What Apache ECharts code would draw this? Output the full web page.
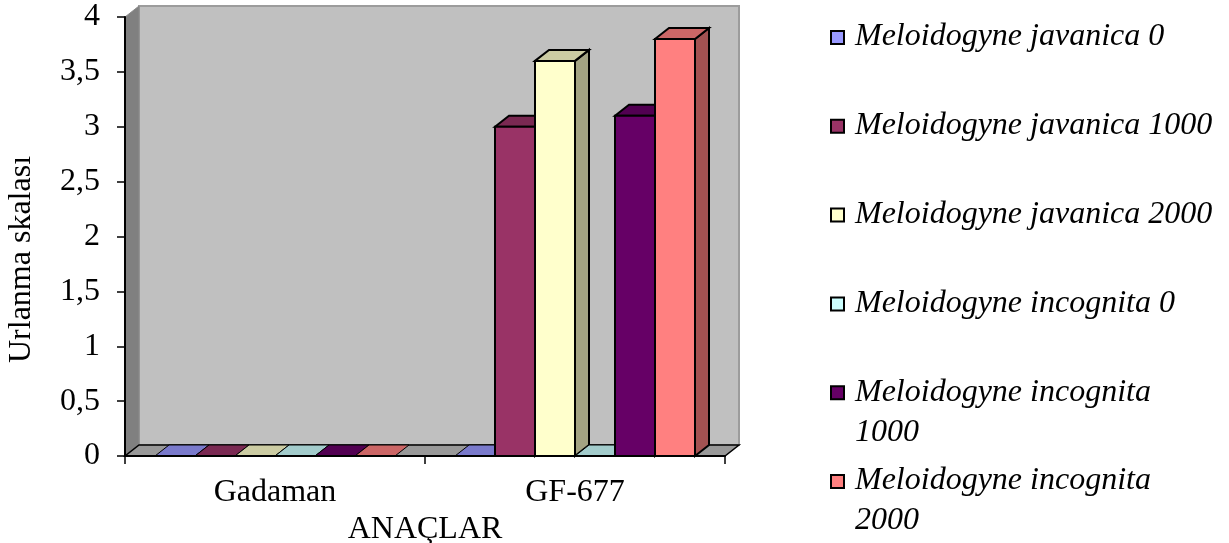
<!DOCTYPE html>
<html>
<head>
<meta charset="utf-8">
<script src="https://cdn.jsdelivr.net/npm/echarts@6/dist/echarts.min.js"></script>
<style>
  html, body { margin: 0; padding: 0; background: #ffffff; }
  #chart { width: 1229px; height: 543px; }
</style>
</head>
<body>
<div id="chart"></div>
<script>
// Rootstocks on the category axis
const categories = ['Gadaman', 'GF-677'];

// Nematode treatments (one series each)
const seriesNames = [
  'Meloidogyne javanica 0',
  'Meloidogyne javanica 1000',
  'Meloidogyne javanica 2000',
  'Meloidogyne incognita 0',
  'Meloidogyne incognita 1000',
  'Meloidogyne incognita 2000'
];

// Galling scale per treatment, [Gadaman, GF-677]
const javanica0    = [0, 0];
const javanica1000 = [0, 3.0];
const javanica2000 = [0, 3.6];
const incognita0   = [0, 0];
const incognita1000 = [0, 3.1];
const incognita2000 = [0, 3.8];
const seriesValues = [javanica0, javanica1000, javanica2000, incognita0, incognita1000, incognita2000];

// Value axis
const yMin = 0, yMax = 4, yStep = 0.5;

const colors = ['#9999FF', '#993366', '#FFFFCC', '#CCFFFF', '#660066', '#FF8080'];

// depth of the pseudo-3D box, in pixels
const DX = 14, DY = -11;
const FONT = '"Liberation Serif", "Times New Roman", serif';

function shade(hex, k) {
  const n = parseInt(hex.slice(1), 16);
  const r = Math.round(((n >> 16) & 255) * k);
  const g = Math.round(((n >> 8) & 255) * k);
  const b = Math.round((n & 255) * k);
  return 'rgb(' + r + ',' + g + ',' + b + ')';
}

// walls and floor of the 3D box
function renderWalls(params, api) {
  const cs = params.coordSys;
  const x0 = cs.x, x1 = cs.x + cs.width, yT = cs.y, yB = cs.y + cs.height;
  return {
    type: 'group',
    children: [
      { type: 'rect', shape: { x: x0 + DX, y: yT + DY, width: x1 - x0, height: yB - yT },
        style: { fill: '#C0C0C0', stroke: '#9c9c9c', lineWidth: 2 } },
      { type: 'polygon', shape: { points: [[x0, yB], [x0, yT], [x0 + DX, yT + DY], [x0 + DX, yB + DY]] },
        style: { fill: '#808080', stroke: '#8a8a8a', lineWidth: 1 } },
      { type: 'polygon', shape: { points: [[x0, yB], [x1, yB], [x1 + DX, yB + DY], [x0 + DX, yB + DY]] },
        style: { fill: '#999999', stroke: '#000', lineWidth: 1.5 } }
    ]
  };
}

function makeBarRenderer(sIdx) {
  const front = colors[sIdx];
  const topC = shade(front, 0.8);
  const sideC = shade(front, 0.64);
  return function (params, api) {
    const cat = api.value(0), val = api.value(1);
    const base = api.coord([cat, 0]);
    const top = api.coord([cat, val]);
    const band = api.size([1, 0])[0];
    const bw = band * 0.8 / seriesNames.length;
    const x0 = base[0] - band * 0.4 + sIdx * bw;
    const x1 = x0 + bw;
    const yB = base[1], yT = top[1];
    const topFace = { type: 'polygon',
      shape: { points: [[x0, yT], [x0 + DX, yT + DY], [x1 + DX, yT + DY], [x1, yT]] },
      style: { fill: topC, stroke: '#000', lineWidth: val > 0 ? 2 : 1 } };
    if (!(val > 0)) {
      return { type: 'group', children: [topFace] };
    }
    return {
      type: 'group',
      children: [
        { type: 'polygon',
          shape: { points: [[x1, yT], [x1 + DX, yT + DY], [x1 + DX, yB + DY], [x1, yB]] },
          style: { fill: sideC, stroke: '#000', lineWidth: 2 } },
        topFace,
        { type: 'rect', shape: { x: x0, y: yT, width: bw, height: yB - yT },
          style: { fill: front, stroke: '#000', lineWidth: 2 } }
      ]
    };
  };
}

const series = [{
  type: 'custom',
  name: '__box',
  z: 1,
  silent: true,
  renderItem: renderWalls,
  data: [[0, 0]]
}];
seriesNames.forEach(function (name, i) {
  series.push({
    type: 'custom',
    name: name,
    z: 2,
    renderItem: makeBarRenderer(i),
    encode: { x: 0, y: 1 },
    data: seriesValues[i].map(function (v, c) { return [c, v]; })
  });
});

// legend drawn beside the plot
const legendItems = [];
const legendTop = 37, legendStep = 88.8;
seriesNames.forEach(function (name, i) {
  const cy = legendTop + i * legendStep;
  legendItems.push({
    type: 'rect', left: 830, top: cy - 7,
    shape: { width: 13, height: 13 },
    style: { fill: colors[i], stroke: '#000', lineWidth: 2 }
  });
  legendItems.push({
    type: 'text', left: 855, top: cy - 20,
    style: {
      text: name, fill: '#000',
      font: 'italic 32px ' + FONT,
      width: 364, overflow: 'break', lineHeight: 40
    }
  });
});

const chart = echarts.init(document.getElementById('chart'), null, { renderer: 'canvas' });
chart.setOption({
  backgroundColor: '#ffffff',
  animation: false,
  grid: { left: 125, right: 504, top: 17, bottom: 87, containLabel: false, outerBoundsMode: 'none' },
  xAxis: {
    type: 'category',
    data: categories,
    z: 10,
    name: 'ANAÇLAR',
    nameLocation: 'middle',
    nameGap: 43,
    nameTextStyle: { fontFamily: FONT, fontSize: 32, color: '#000' },
    axisLine: { show: true, lineStyle: { color: '#000', width: 2 } },
    axisTick: { show: true, length: 8, lineStyle: { color: '#000', width: 1.5 } },
    axisLabel: { fontFamily: FONT, fontSize: 32, color: '#000', margin: 21 },
    splitLine: { show: false }
  },
  yAxis: {
    type: 'value',
    min: yMin, max: yMax, interval: yStep,
    z: 10,
    name: 'Urlanma skalası',
    nameLocation: 'middle',
    nameGap: 87,
    nameTextStyle: { fontFamily: FONT, fontSize: 32, color: '#000', padding: [0, 46, 0, 0] },
    axisLine: { show: true, lineStyle: { color: '#000', width: 2 } },
    axisTick: { show: true, length: 8, lineStyle: { color: '#000', width: 1.5 } },
    axisLabel: {
      fontFamily: FONT, fontSize: 32, color: '#000', margin: 25,
      formatter: function (v) { return String(v).replace('.', ','); }
    },
    splitLine: { show: false }
  },
  series: series,
  graphic: legendItems
});
</script>
</body>
</html>
